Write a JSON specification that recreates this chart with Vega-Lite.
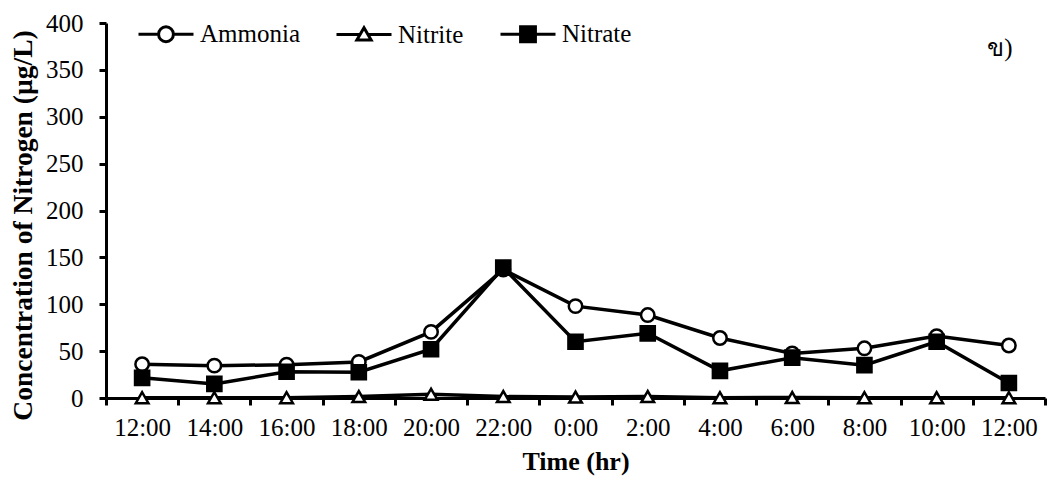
{
  "$schema": "https://vega.github.io/schema/vega-lite/v6.json",
  "autosize": {"type": "none"},
  "padding": {"left": 106, "top": 23, "right": 6, "bottom": 87},
  "width": 939,
  "height": 375,
  "background": "white",
  "config": {
    "view": {"stroke": null},
    "font": "Liberation Serif",
    "axis": {
      "grid": false,
      "domainColor": "black",
      "domainWidth": 3,
      "tickColor": "black",
      "tickWidth": 3,
      "tickSize": 7,
      "labelFont": "Liberation Serif",
      "labelFontSize": 25,
      "labelColor": "black",
      "titleFont": "Liberation Serif",
      "titleFontSize": 26,
      "titleFontWeight": "bold",
      "titleColor": "black"
    },
    "legend": {
      "title": null,
      "orient": "none",
      "direction": "horizontal",
      "legendX": 31,
      "legendY": -18,
      "padding": 0,
      "columnPadding": 30,
      "labelOffset": 5,
      "labelFont": "Liberation Serif",
      "labelFontSize": 25,
      "labelColor": "black",
      "labelLimit": 400,
      "symbolSize": 3025,
      "symbolStrokeWidth": 3,
      "symbolOpacity": 1
    }
  },
  "data": {
    "values": [
      {"time": "12:00", "series": "Ammonia", "value": 36},
      {"time": "14:00", "series": "Ammonia", "value": 34.5},
      {"time": "16:00", "series": "Ammonia", "value": 35.5},
      {"time": "18:00", "series": "Ammonia", "value": 38.5},
      {"time": "20:00", "series": "Ammonia", "value": 70.5},
      {"time": "22:00", "series": "Ammonia", "value": 137},
      {"time": "0:00", "series": "Ammonia", "value": 98},
      {"time": "2:00", "series": "Ammonia", "value": 88.5},
      {"time": "4:00", "series": "Ammonia", "value": 64},
      {"time": "6:00", "series": "Ammonia", "value": 47.5},
      {"time": "8:00", "series": "Ammonia", "value": 53},
      {"time": "10:00", "series": "Ammonia", "value": 66},
      {"time": "12:00 (next)", "series": "Ammonia", "value": 56},
      {"time": "12:00", "series": "Nitrite", "value": 0.3},
      {"time": "14:00", "series": "Nitrite", "value": 0.3},
      {"time": "16:00", "series": "Nitrite", "value": 0.3},
      {"time": "18:00", "series": "Nitrite", "value": 1.5},
      {"time": "20:00", "series": "Nitrite", "value": 4},
      {"time": "22:00", "series": "Nitrite", "value": 1.5},
      {"time": "0:00", "series": "Nitrite", "value": 1},
      {"time": "2:00", "series": "Nitrite", "value": 1.5},
      {"time": "4:00", "series": "Nitrite", "value": 0.3},
      {"time": "6:00", "series": "Nitrite", "value": 0.5},
      {"time": "8:00", "series": "Nitrite", "value": 0.3},
      {"time": "10:00", "series": "Nitrite", "value": 0.3},
      {"time": "12:00 (next)", "series": "Nitrite", "value": 0.3},
      {"time": "12:00", "series": "Nitrate", "value": 21.5},
      {"time": "14:00", "series": "Nitrate", "value": 15},
      {"time": "16:00", "series": "Nitrate", "value": 28},
      {"time": "18:00", "series": "Nitrate", "value": 27.5},
      {"time": "20:00", "series": "Nitrate", "value": 52},
      {"time": "22:00", "series": "Nitrate", "value": 139},
      {"time": "0:00", "series": "Nitrate", "value": 60},
      {"time": "2:00", "series": "Nitrate", "value": 69},
      {"time": "4:00", "series": "Nitrate", "value": 29},
      {"time": "6:00", "series": "Nitrate", "value": 43},
      {"time": "8:00", "series": "Nitrate", "value": 35},
      {"time": "10:00", "series": "Nitrate", "value": 60},
      {"time": "12:00 (next)", "series": "Nitrate", "value": 16}
    ]
  },
  "encoding": {
    "x": {
      "field": "time",
      "type": "ordinal",
      "sort": null,
      "scale": {"paddingInner": 0, "paddingOuter": 0},
      "axis": {
        "title": "Time (hr)",
        "labelAngle": 0,
        "tickBand": "extent",
        "labelPadding": 10,
        "titlePadding": 8,
        "labelExpr": "slice(datum.label, 0, 5)"
      }
    },
    "y": {
      "field": "value",
      "type": "quantitative",
      "scale": {"domain": [0, 400], "nice": false},
      "axis": {
        "title": "Concentration of Nitrogen (µg/L)",
        "titleFontSize": 27.5,
        "titleY": 202,
        "values": [0, 50, 100, 150, 200, 250, 300, 350, 400],
        "labelPadding": 16,
        "titlePadding": 8
      }
    }
  },
  "layer": [
    {
      "mark": {"type": "line", "color": "black", "strokeWidth": 3.5},
      "encoding": {"detail": {"field": "series"}}
    },
    {
      "mark": {"type": "point", "filled": true, "opacity": 0, "strokeWidth": 3, "size": 3025},
      "encoding": {
        "shape": {
          "field": "series",
          "type": "nominal",
          "scale": {
            "domain": ["Ammonia", "Nitrite", "Nitrate"],
            "range": [
              "M-1,0L-0.27,0M0.27,0L1,0M0.27,0A0.27,0.27,0,1,1,-0.27,0A0.27,0.27,0,1,1,0.27,0Z",
              "M-1,0L-0.15,0M0.15,0L1,0M-0.26,0.2L0.26,0.2L0,-0.25Z",
              "M-1,0L-0.27,0M0.27,0L1,0M-0.27,-0.27L0.27,-0.27L0.27,0.27L-0.27,0.27Z"
            ]
          }
        },
        "fill": {
          "field": "series",
          "type": "nominal",
          "scale": {"domain": ["Ammonia", "Nitrite", "Nitrate"], "range": ["white", "white", "black"]}
        },
        "stroke": {
          "field": "series",
          "type": "nominal",
          "scale": {"domain": ["Ammonia", "Nitrite", "Nitrate"], "range": ["black", "black", "black"]}
        }
      }
    },
    {
      "transform": [{"filter": "datum.series === 'Ammonia'"}],
      "mark": {"type": "point", "shape": "circle", "filled": true, "fill": "white", "opacity": 1, "stroke": "black", "strokeWidth": 2.5, "size": 180}
    },
    {
      "transform": [{"filter": "datum.series === 'Nitrite'"}],
      "mark": {"type": "point", "shape": "triangle-up", "filled": true, "fill": "white", "opacity": 1, "stroke": "black", "strokeWidth": 2.5, "size": 160}
    },
    {
      "transform": [{"filter": "datum.series === 'Nitrate'"}],
      "mark": {"type": "point", "shape": "square", "filled": true, "fill": "black", "opacity": 1, "stroke": "black", "strokeWidth": 2.5, "size": 200}
    },
    {
      "data": {"values": [{"time": "12:00 (next)", "value": 373, "note": "ข)"}]},
      "mark": {"type": "text", "font": "Liberation Serif", "fontSize": 25, "color": "black", "dx": -9, "align": "center", "baseline": "middle"},
      "encoding": {"text": {"field": "note"}}
    }
  ]
}
